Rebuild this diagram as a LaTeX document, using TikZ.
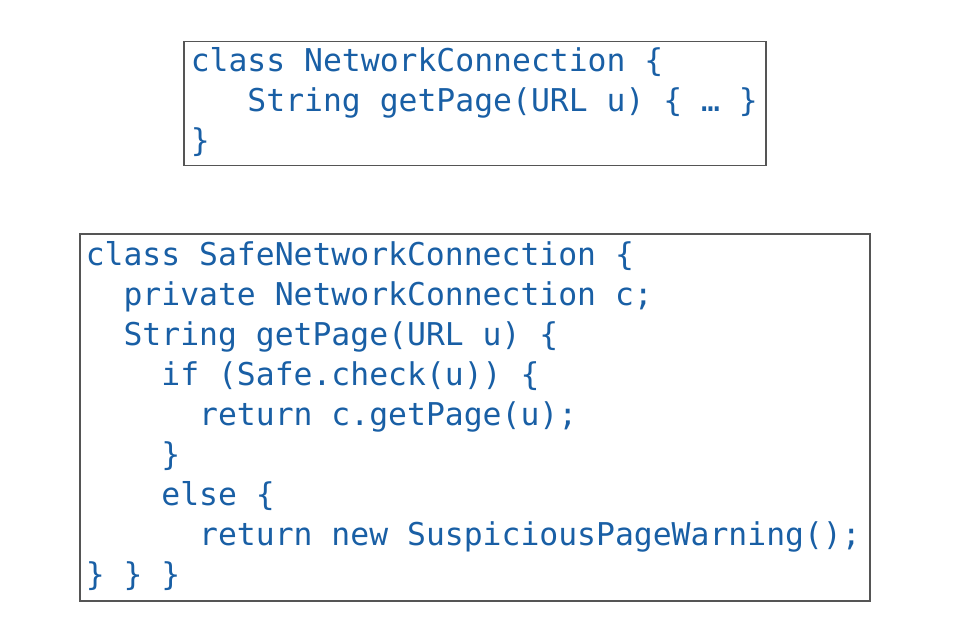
\documentclass[tikz,border=0pt]{standalone}
\usepackage{fontspec}
\newfontfamily\codefont{DejaVu Sans Mono}
\usetikzlibrary{positioning}
\definecolor{codeblue}{RGB}{25,95,165}
\definecolor{boxgray}{RGB}{85,85,85}
\newcommand{\ind}[1]{\hspace*{#1\fontcharwd\font`x}}
\tikzset{codebox/.style={
    draw=boxgray,
    line width=0.75pt,
    anchor=north west,
    align=left,
    inner ysep=0pt,
    text=codeblue,
    font={\codefont\fontsize{15.7}{20}\selectfont},
    execute at begin node={\spaceskip=\fontcharwd\font`x\relax\xspaceskip=\spaceskip},
    #1
  }
}

\begin{document}
\begin{tikzpicture}[x=0.5pt,y=-0.5pt]
      \useasboundingbox (0,0) rectangle (975,642);
      \node[codebox={text width=284pt,inner xsep=3.5pt,minimum height=62pt}] (plain) at (183,41)
        {\strut class NetworkConnection \{\\
         \strut\ind{3}String getPage(URL u) \{ … \}\\
         \strut\}};
      \node[codebox={text width=389pt,inner xsep=3pt,minimum height=183.5pt}] (safe) at (79,233)
        {\strut class SafeNetworkConnection \{\\
         \strut\ind{2}private NetworkConnection c;\\
         \strut\ind{2}String getPage(URL u) \{\\
         \strut\ind{4}if (Safe.check(u)) \{\\
         \strut\ind{6}return c.getPage(u);\\
         \strut\ind{4}\}\\
         \strut\ind{4}else \{\\
         \strut\ind{6}return new SuspiciousPageWarning();\\
         \strut\} \} \}};
\end{tikzpicture}
\end{document}
